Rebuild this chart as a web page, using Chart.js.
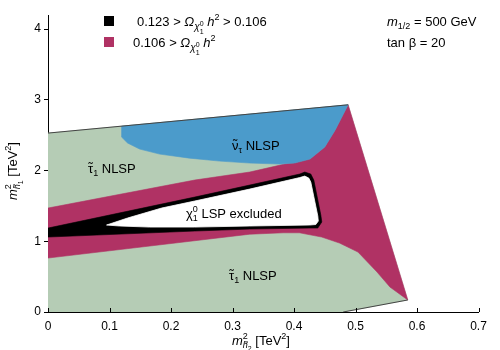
<!DOCTYPE html>
<html><head><meta charset="utf-8">
<script src="https://cdn.jsdelivr.net/npm/chart.js@4.4.0/dist/chart.umd.min.js"></script>
<style>html,body{margin:0;padding:0;background:#fff}#wrap{width:500px;height:350px;position:relative}</style>
</head><body><div id="wrap"><canvas id="c" width="500" height="350"></canvas></div>
<script>
// ---- data (x = m^2_h2 [TeV^2], y = m^2_h1 [TeV^2]) ----
const xTicks = [0, 0.1, 0.2, 0.3, 0.4, 0.5, 0.6, 0.7];
const xTickLabels = ['0', '0.1', '0.2', '0.3', '0.4', '0.5', '0.6', '0.7'];
const yTicks = [0, 1, 2, 3, 4];
const yTickLabels = ['0', '1', '2', '3', '4'];
const xRange = [0, 0.7];
const yRange = [0, 4.2];

// allowed parameter region (stau NLSP background)
const allowedRegion = [[0,0],[0.48,0],[0.585,0.17],[0.488,2.93],[0,2.53]];
// 0.106 > Omega h^2
const underAbundantBand = [[0,1.47],[0.2385,1.866],[0.328,1.979],[0.385,2.092],[0.401,2.106],[0.426,2.162],[0.450,2.332],[0.467,2.572],[0.488,2.93],[0.585,0.17],[0.556,0.353],[0.535,0.565],[0.504,0.848],[0.474,0.975],[0.445,1.060],[0.409,1.12],[0.382,1.12],[0.328,1.10],[0,0.763]];
// sneutrino NLSP
const sneutrinoRegion = [[0.1197,2.628],[0.488,2.93],[0.467,2.572],[0.450,2.332],[0.426,2.162],[0.401,2.106],[0.377,2.092],[0.328,2.106],[0.279,2.134],[0.230,2.176],[0.1815,2.233],[0.149,2.304],[0.1294,2.389],[0.1197,2.473]];
// 0.123 > Omega h^2 > 0.106
const wmapBand = [[0,1.187],[0.2385,1.625],[0.328,1.795],[0.4094,1.951],[0.4175,1.979],[0.4273,1.951],[0.4322,1.866],[0.4436,1.371],[0.4452,1.272],[0.4387,1.187],[0.4257,1.187],[0.328,1.173],[0.2385,1.145],[0,1.060]];
// neutralino LSP excluded
const excludedRegion = [[0.0952,1.230],[0.1294,1.329],[0.1848,1.470],[0.2385,1.569],[0.328,1.738],[0.4094,1.901],[0.4175,1.922],[0.4240,1.894],[0.4273,1.837],[0.4387,1.357],[0.4395,1.286],[0.4355,1.237],[0.4257,1.230],[0.328,1.216],[0.2385,1.201],[0.1652,1.201],[0.1164,1.216]];
// region boundary lines
const upperEdge = [[0,2.53],[0.488,2.93]];
const lowerEdge = [[0.48,0],[0.585,0.17]];

const COL_GREEN = '#b5ccb5', COL_MAG = '#b03264', COL_BLUE = '#4b9bcb', COL_BLACK = '#000000';
const FF = '"Liberation Sans", Arial, Helvetica, sans-serif';

function pts(a){ return a.map(p => ({x:p[0], y:p[1]})); }
function closed(a){ return pts(a.concat([a[0]])); }
function poly(data, color, order, bw){
  return {data: closed(data), fill:'shape', backgroundColor: color, borderColor: color,
    borderWidth: bw === undefined ? 0.6 : bw, pointRadius: 0, tension: 0, order};
}
function edge(data){
  return {data: pts(data), fill:false, borderColor:'#444', borderWidth:1, pointRadius:0, order:1};
}

function drawRich(ctx, x, y, parts){
  let cx = x, hold = 0;
  for (const p of parts){
    const size = p.s || 13;
    ctx.font = (p.i ? 'italic ' : '') + size + 'px ' + FF;
    const w = ctx.measureText(p.t).width;
    const by = y + (p.dy || 0);
    ctx.fillText(p.t, cx, by);
    if (p.tl !== undefined){
      ctx.font = size + 'px ' + FF;
      const tw = ctx.measureText('\u02DC').width;
      ctx.fillText('\u02DC', cx + (w - tw) / 2 + (p.i ? size * 0.12 : 0), by + p.tl);
    }
    if (p.keep){ hold = Math.max(hold, w); }
    else { cx += Math.max(w, hold); hold = 0; }
  }
  return cx - x;
}

const annot = {
  id: 'annot',
  afterDraw(chart){
    const ctx = chart.ctx, xs = chart.scales.x, ca = chart.chartArea;
    ctx.save();
    // inward x ticks
    ctx.strokeStyle = '#000'; ctx.lineWidth = 1;
    ctx.beginPath();
    for (const v of xTicks){
      const px = Math.round(xs.getPixelForValue(v)) + 0.5;
      ctx.moveTo(px, ca.bottom); ctx.lineTo(px, ca.bottom - 4);
    }
    ctx.stroke();
    ctx.fillStyle = '#000'; ctx.textBaseline = 'alphabetic'; ctx.textAlign = 'left';
    // legend
    ctx.fillStyle = COL_BLACK; ctx.fillRect(104, 16, 10, 10);
    ctx.fillStyle = COL_MAG; ctx.fillRect(104, 37, 10, 10);
    ctx.fillStyle = '#000';
    const omega = [{t:'Ω', i:true}, {t:'χ', s:10, dy:4, i:true}, {t:'0', s:7, dy:-0.5, keep:true}, {t:'1', s:7, dy:8}];
    drawRich(ctx, 137, 26, [{t:'0.123 > '}, ...omega, {t:' '}, {t:'h', i:true}, {t:'2', s:9, dy:-6}, {t:' > 0.106'}]);
    drawRich(ctx, 133, 47, [{t:'0.106 > '}, ...omega, {t:' '}, {t:'h', i:true}, {t:'2', s:9, dy:-6}]);
    drawRich(ctx, 387, 26, [{t:'m', i:true}, {t:'1/2', s:9, dy:3}, {t:' = 500 GeV'}]);
    drawRich(ctx, 387, 47, [{t:'tan β = 20'}]);
    // region labels
    drawRich(ctx, 88, 173, [{t:'τ', tl:-1}, {t:'1', s:9, dy:3}, {t:' NLSP'}]);
    drawRich(ctx, 232, 150, [{t:'ν', tl:-1}, {t:'τ', s:9, dy:3}, {t:' NLSP'}]);
    drawRich(ctx, 186, 218, [{t:'χ'}, {t:'0', s:9, dy:-6, keep:true}, {t:'1', s:9, dy:3}, {t:' LSP excluded'}]);
    drawRich(ctx, 229, 280, [{t:'τ', tl:-1}, {t:'1', s:9, dy:3}, {t:' NLSP'}]);
    // axis titles
    const xt = [{t:'m', i:true}, {t:'2', s:9, dy:-6, keep:true}, {t:'h', s:9, dy:3, i:true, tl:0}, {t:'2', s:7, dy:6}, {t:' [TeV'}, {t:'2', s:9, dy:-6}, {t:']'}];
    drawRich(ctx, 232, 345, xt);
    ctx.save();
    ctx.translate(17, 200); ctx.rotate(-Math.PI/2);
    const yt = [{t:'m', i:true}, {t:'2', s:9, dy:-6, keep:true}, {t:'h', s:9, dy:3, i:true, tl:0}, {t:'1', s:7, dy:6}, {t:' [TeV'}, {t:'2', s:9, dy:-6}, {t:']'}];
    drawRich(ctx, 0, 0, yt);
    ctx.restore();
    ctx.restore();
  }
};

new Chart(document.getElementById('c').getContext('2d'), {
  type: 'line',
  data: { datasets: [
    poly(allowedRegion, COL_GREEN, 7),
    poly(underAbundantBand, COL_MAG, 6),
    poly(sneutrinoRegion, COL_BLUE, 5),
    poly(wmapBand, COL_BLACK, 4),
    poly(excludedRegion, '#ffffff', 3, 0.8),
    edge(upperEdge),
    edge(lowerEdge)
  ]},
  options: {
    responsive: false, animation: false, devicePixelRatio: 1,
    layout: { padding: { top: 15, right: 21.5, left: 0, bottom: 0 } },
    plugins: { legend: { display: false }, tooltip: { enabled: false }, filler: { propagate: false } },
    scales: {
      x: {
        type: 'linear', min: xRange[0], max: xRange[1], z: 1,
        afterBuildTicks: s => { s.ticks = xTicks.map(v => ({value: v})); },
        afterFit: s => { s.height = 38; },
        grid: { display: false, drawTicks: false },
        border: { display: true, color: '#000', width: 1 },
        ticks: { color: '#000', font: { family: FF, size: 12 }, padding: 7, maxRotation: 0,
          callback: (v, i) => xTickLabels[i] }
      },
      y: {
        type: 'linear', min: yRange[0], max: yRange[1], z: 1,
        afterBuildTicks: s => { s.ticks = yTicks.map(v => ({value: v})); },
        afterFit: s => { s.width = 48; },
        grid: { display: true, drawOnChartArea: false, drawTicks: true, tickLength: 4, color: '#000' },
        border: { display: true, color: '#000', width: 1 },
        ticks: { color: '#000', font: { family: FF, size: 12 }, padding: 3,
          callback: (v, i) => yTickLabels[i] }
      }
    }
  },
  plugins: [annot]
});
</script>
</body></html>
